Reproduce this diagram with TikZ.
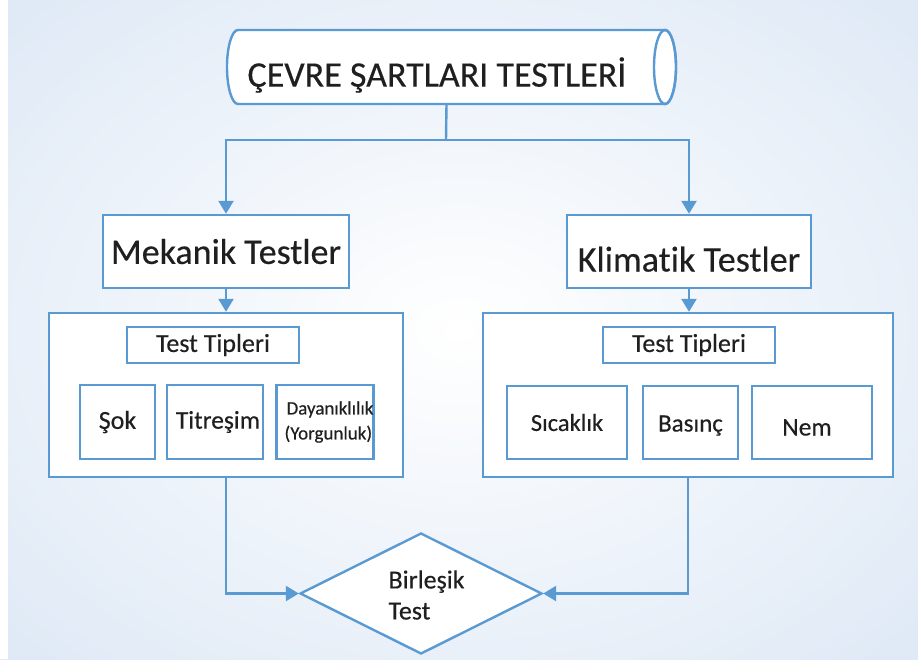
\documentclass[tikz,border=0pt]{standalone}
\usepackage{fontspec}
\setmainfont{Carlito}[Ligatures=NoCommon,UprightFeatures={FakeBold=0.35}]
\usetikzlibrary{shapes.geometric,arrows.meta}
\definecolor{lineblue}{HTML}{5A9AD3}
\definecolor{bgblue}{HTML}{E0EAF6}
\tikzset{
  box/.style={draw=lineblue, line width=2.4pt, fill=white, rectangle, inner sep=0pt, text=black!88},
  conn/.style={draw=lineblue, line width=2.4pt},
  arr/.style={conn, -{Triangle[width=15pt,length=13pt]}},
}
\begin{document}
\begin{tikzpicture}[x=1pt,y=-1pt]
\useasboundingbox (0,0) rectangle (918,659);
\shade[inner color=white, outer color=bgblue, shading=radial] (-150,-120) rectangle (1068,779);
\fill[white] (0,0) rectangle (8,659);
% cylinder (drawn directly), named frame node
\node[minimum width=449pt, minimum height=74pt, inner sep=0pt, outer sep=0pt] (cyl) at (451.5,67) {};
\filldraw[draw=lineblue, fill=white, line width=2.4pt]
  (238,30) -- (665,30) arc[start angle=-90, end angle=90, x radius=11, y radius=37]
  -- (238,104) arc[start angle=90, end angle=270, x radius=11, y radius=37] -- cycle;
\draw[lineblue, line width=2.4pt] (665,67) ellipse[x radius=11, y radius=37];
\node[font=\fontsize{36}{40}\selectfont, text=black!88] (title) at (437,75) {ÇEVRE ŞARTLARI TESTLERİ};
% main boxes
\node[box, minimum width=246pt, minimum height=73pt, font=\fontsize{36}{40}\selectfont] (mek) at (226,251.5) {Mekanik Testler};
\node[box, minimum width=244pt, minimum height=73pt, font=\fontsize{36}{40}\selectfont] (kli) at (689,251.5) {\raisebox{-20pt}[0pt][0pt]{Klimatik Testler}};
% big boxes
\node[box, minimum width=354pt, minimum height=164pt] (lbig) at (226,395) {};
\node[box, minimum width=410pt, minimum height=164pt] (rbig) at (688,395) {};
% test tipleri
\node[box, minimum width=172pt, minimum height=36pt, font=\fontsize{26}{28}\selectfont] (ltt) at (213,345) {Test Tipleri};
\node[box, minimum width=172pt, minimum height=36pt, font=\fontsize{26}{28}\selectfont] (rtt) at (689,345) {Test Tipleri};
% small boxes left
\node[box, minimum width=75pt, minimum height=74pt, font=\fontsize{26}{28}\selectfont] (sok) at (117.5,422) {Şok};
\node[box, minimum width=96pt, minimum height=74pt, font=\fontsize{25.5}{28}\selectfont] (tit) at (215,422) {\hspace*{6pt}Titreşim};
\node[box, minimum width=96pt, minimum height=74pt, font=\fontsize{19}{25}\selectfont, align=left] (day) at (325,422) {\hspace*{10pt}Dayanıklılık\\\hspace*{8pt}(Yorgunluk)};
% small boxes right
\node[box, minimum width=120pt, minimum height=73pt, font=\fontsize{24.5}{28}\selectfont] (sic) at (567,422.5) {Sıcaklık};
\node[box, minimum width=95pt, minimum height=73pt, font=\fontsize{25}{28}\selectfont] (bas) at (690.5,422.5) {\raisebox{-9pt}[0pt][0pt]{Basınç}};
\node[box, minimum width=120pt, minimum height=73pt, font=\fontsize{25.5}{28}\selectfont] (nem) at (812,422.5) {\hspace*{-10pt}\raisebox{-13pt}[0pt][0pt]{Nem}};
% diamond
\node[diamond, draw=lineblue, line width=2.4pt, fill=white, minimum width=242pt, minimum height=121pt,
      inner sep=0pt, aspect=2] (dia) at (421,593.5) {};
\node[font=\fontsize{26}{31}\selectfont, align=left, text=black!88, anchor=west] (diat) at (385,595) {Birleşik\\Test};
% connectors
\coordinate (cbot) at ([xshift=-5pt]cyl.south);
\coordinate (split) at (446,140);
\draw[conn] (cbot) -- (split);
\draw[arr] (split) -| (mek.north);
\draw[arr] (split) -| (kli.north);
\draw[arr] (mek.south) -- (lbig.north -| mek.south);
\draw[arr] (kli.south) -- (rbig.north -| kli.south);
\draw[arr] (lbig.south) |- (dia.west);
\draw[arr] (rbig.south) |- (dia.east);
\end{tikzpicture}
\end{document}
